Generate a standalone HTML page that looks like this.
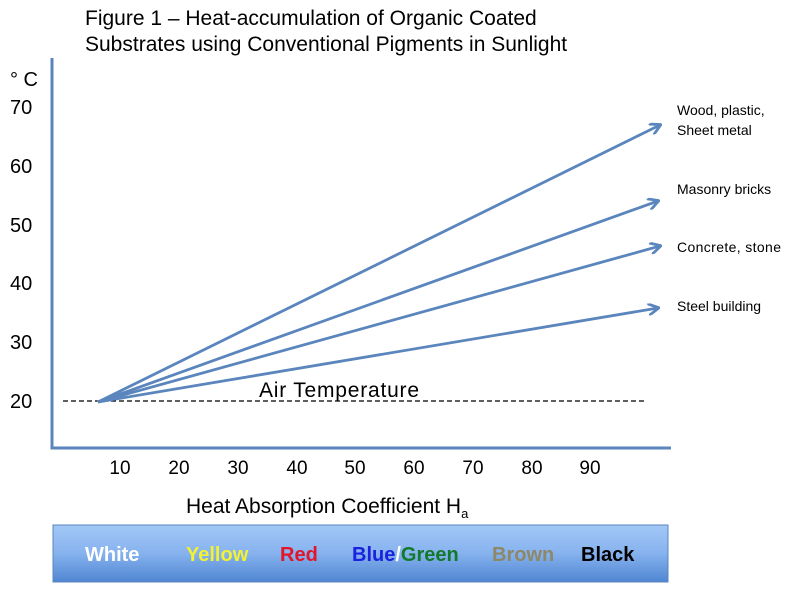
<!DOCTYPE html>
<html><head><style>
body{margin:0;background:#fff;width:797px;height:600px;overflow:hidden;font-family:"Liberation Sans",sans-serif}
</style></head><body>
<svg width="797" height="600" xmlns="http://www.w3.org/2000/svg" font-family="Liberation Sans, sans-serif">
<defs>
<linearGradient id="g" x1="0" y1="0" x2="0" y2="1"><stop offset="0" stop-color="#a3c8f7"/><stop offset="0.5" stop-color="#86b2ee"/><stop offset="1" stop-color="#4f86d2"/></linearGradient>
<marker id="a" markerWidth="12" markerHeight="12" refX="10" refY="6" orient="auto" markerUnits="userSpaceOnUse"><path d="M0,0 L11,6 L0,12" fill="none" stroke="#5a85bd" stroke-width="2.8"/></marker>
</defs>
<text x="85" y="25" font-size="21" fill="#000">Figure 1 – Heat-accumulation of Organic Coated</text>
<text x="85" y="51" font-size="21" fill="#000">Substrates using Conventional Pigments  in Sunlight</text>
<text x="10" y="86" font-size="20">° C</text>
<g font-size="20" fill="#000">
<text x="10" y="114">70</text><text x="10" y="173">60</text><text x="10" y="232">50</text>
<text x="10" y="290">40</text><text x="10" y="349">30</text><text x="10" y="408">20</text>
</g>
<path d="M52,58 V448 H671" fill="none" stroke="#5a85bd" stroke-width="3"/>
<g font-size="19" text-anchor="middle">
<text x="120" y="474">10</text><text x="179" y="474">20</text><text x="238" y="474">30</text><text x="297" y="474">40</text><text x="355" y="474">50</text><text x="414" y="474">60</text><text x="473" y="474">70</text><text x="532" y="474">80</text><text x="590" y="474">90</text>
</g>
<line x1="63" y1="401" x2="645" y2="401" stroke="#000" stroke-width="1.2" stroke-dasharray="5,3"/>
<text x="259" y="397" font-size="21" textLength="160">Air Temperature</text>
<g stroke="#5a85bd" stroke-width="2.8" marker-end="url(#a)">
<line x1="98" y1="402" x2="660" y2="125"/>
<line x1="98" y1="402" x2="658" y2="201"/>
<line x1="98" y1="402" x2="660" y2="246"/>
<line x1="98" y1="402" x2="658" y2="308"/>
</g>
<g font-size="14">
<text x="677" y="115">Wood, plastic,</text><text x="677" y="135">Sheet metal</text>
<text x="677" y="194">Masonry bricks</text>
<text x="677" y="252" textLength="104">Concrete, stone</text>
<text x="677" y="311">Steel building</text>
</g>
<text x="186" y="513" font-size="21">Heat Absorption Coefficient H<tspan font-size="13" dy="5">a</tspan></text>
<rect x="53" y="525" width="615" height="57" fill="url(#g)" stroke="#5a85bd" stroke-width="1"/>
<g font-size="20" font-weight="bold">
<text x="85" y="561" fill="#fff">White</text>
<text x="186" y="561" fill="#f2f230">Yellow</text>
<text x="280" y="561" fill="#e4142a">Red</text>
<text x="352" y="561" fill="#1a22e0">Blue<tspan fill="#fff">/</tspan><tspan fill="#137a2a">Green</tspan></text>
<text x="492" y="561" fill="#8c8868">Brown</text>
<text x="581" y="561" fill="#000">Black</text>
</g>
</svg>
</body></html>
